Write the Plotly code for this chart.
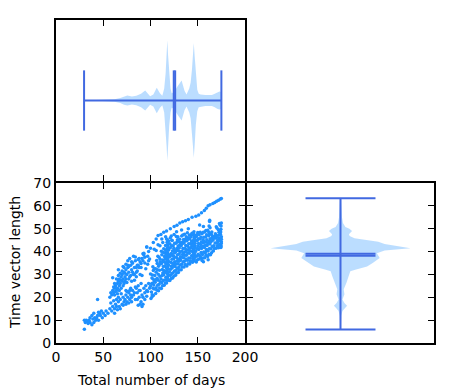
import numpy as np
import plotly.graph_objects as go

# ---------------- data ----------------
# lower-left sparse group
x_early = [30, 30, 31, 32, 33, 34, 35, 36, 36, 38, 38, 39, 40, 40, 41, 42, 43, 44, 45, 45, 46, 47, 48, 49, 50, 44, 52, 53]
y_early = [6, 10, 9, 10, 9.5, 8.5, 10, 11, 9, 8, 12, 10.5, 9, 13, 11, 10, 11, 12, 10, 13.5, 13, 12, 14, 11, 13, 19, 12, 14]

# upper-left band
x_upleft = [57, 58, 59, 60, 61, 62, 62, 63, 64, 65, 65, 66, 67, 67, 68, 69, 70, 70, 71, 72, 72, 73, 74, 74, 75,
            76, 77, 78, 79, 80, 81, 82, 83, 84, 85, 86, 88, 90, 92, 94, 96, 98, 60, 66, 71, 76, 84, 89, 93, 97,
            86, 88, 90, 92, 94, 95, 97, 99, 91, 98, 87, 83, 80, 85,
            62, 64, 66, 68, 70, 72, 74, 76, 78, 80, 82, 63, 65, 67, 69, 71, 73, 75, 77, 79, 81, 83, 85, 87, 89,
            91, 93, 61, 69, 73, 77, 81]
y_upleft = [20, 22, 21, 23, 22, 24, 21, 25, 23, 26, 24, 27, 25, 28, 26, 29, 27, 30, 28, 31, 26, 29, 32, 28, 30,
            33, 31, 29, 34, 32, 35, 30, 33, 36, 31, 34, 37, 33, 39, 35, 42, 36, 28.5, 32, 33.5, 34, 37.6, 30, 39.3, 38,
            31.5, 33, 34.8, 36, 37.5, 32.5, 34.5, 36.8, 29.5, 40, 36.5, 27.5, 27, 29,
            26, 28, 29.5, 30.5, 31.5, 33, 34.5, 36, 37, 35.5, 38, 22.5, 21.5, 23, 24, 25, 27, 26.5, 28, 29.5, 31,
            30, 33, 34, 35.5, 37, 38.5, 24.5, 27.5, 30.5, 33.5, 35]

# lower-middle band
x_lowmid = [55, 57, 59, 60, 62, 63, 64, 66, 67, 68, 70, 71, 72, 73, 74, 75, 76, 77, 78, 79, 80, 81, 82, 84,
            85, 86, 87, 88, 89, 90, 90, 91, 92, 93, 94, 95, 96, 98, 99, 58, 64, 69, 74, 79, 87, 91,
            62, 65, 68, 71, 74, 77, 80, 83, 86, 88, 92, 94, 96, 97, 89, 84, 78, 75, 66, 61]
y_lowmid = [13, 15, 14, 16, 15, 17, 16, 18, 16, 19, 17, 20, 18, 19, 21, 18, 20, 22, 19, 21, 20, 23, 21, 19,
            24, 22, 25, 20, 23, 18, 26, 21, 17, 24, 22, 25, 23, 26, 24, 17.5, 19, 21.5, 23, 24, 16.5, 16,
            13, 14.5, 15, 16.5, 17, 17.5, 18, 22, 19, 23, 20, 19, 20.5, 22.5, 17, 24.5, 23, 22.5, 20, 18.5]

# upper line and secondary points above the main cloud
x_upper = [96, 100, 103, 106, 108, 111, 114, 117, 121, 125, 128, 131, 134, 137, 140, 144, 148, 151, 154, 157,
           159, 161, 163, 166, 168, 170, 172, 174, 175,
           127.6, 132.9, 152, 162.6, 173, 169.6, 104, 108, 112, 116, 121, 125, 140, 156, 106, 110, 113, 117, 122]
y_upper = [42, 41.5, 44, 45.5, 47, 47.5, 48.5, 49, 50, 51, 51.5, 52.5, 53, 53.5, 54, 55, 55.5, 56, 57, 58,
           59, 60, 60.5, 61, 61.5, 62, 62.5, 63, 63.2,
           48.7, 49.4, 51.6, 53.7, 52.3, 50.9, 41, 43, 45.5, 46.5, 46, 47.5, 50, 51, 40.5, 42.5, 44, 45.5, 46.8]

# main cloud
x_main = [100.5, 101, 100, 102, 101.5, 100, 103, 104, 103.5, 103, 104.5, 103, 102.5,
          105.5, 106, 105, 107, 106, 105.5, 107, 106.5, 108.5, 109, 108, 110, 109.5, 108.5, 110, 109,
          111.5, 112, 111, 113, 112.5, 111.5, 113, 112, 111.5, 114.5, 115, 114, 116, 115.5, 114.5, 116, 115, 114,
          117, 117.5, 118, 117.5, 118, 117.2, 118.3, 117.8, 118, 117.5, 118.2, 117.6, 118.8, 119, 118.6, 119.2,
          118.9, 119.3, 118.5, 117.9, 118.4, 117.7,
          120.5, 121, 120, 122, 121.5, 120.5, 122, 121, 120.5, 123.5, 124, 123, 125, 124.5, 123.5, 125, 124, 123,
          126.5, 127, 126, 128, 127.5, 126.5, 128, 127, 128.5, 129.5, 130, 129, 131, 130.5, 129.5, 131, 130, 129,
          132.5, 133, 132, 134, 133.5, 132.5, 134, 133, 135.5, 136, 135, 137, 136.5, 135.5, 137, 136,
          138.5, 139, 138, 140, 139.5, 138.5, 140, 139, 141.5, 142, 141, 143, 142.5, 141.5, 143, 142,
          144.5, 145, 144.6, 145.5, 145.2, 145.8, 145.4, 146, 146.2, 146.5, 146, 146.8, 146.3, 146.7, 145.9, 146.4,
          145.7, 147,
          148.5, 149, 148, 150, 149.5, 148.5, 150, 151.5, 152, 151, 153, 152.5, 151.5, 153,
          154.5, 155, 154, 156, 155.5, 154.5, 157.5, 158, 157, 159, 158.5, 157.5, 156, 159,
          160.5, 161, 160, 162, 161.5, 160.5, 163.5, 164, 163, 165, 164.5, 163, 162.5, 161,
          166.5, 167, 166, 168, 169.5, 170, 169, 171, 171.5, 172, 172.5, 173, 173.5, 174, 174.5, 175, 175, 174.8,
          172, 170.5, 173.5]
y_main = [19.5, 22.3, 24.8, 26.1, 28.4, 30.2, 20.8, 23.6, 25.4, 27.9, 29.5, 31.7, 33.4,
          21.7, 24.2, 26.6, 28.3, 30.9, 32.5, 34.8, 36.1, 22.9, 25.7, 27.4, 29.2, 31.8, 33.6, 35.4, 37.5,
          23.8, 26.4, 28.1, 30.6, 32.2, 34.7, 36.3, 38.6, 40.1, 25.3, 27.6, 29.9, 31.4, 33.8, 35.5, 37.2, 39.4, 41.2,
          26.2, 28.7, 30.3, 31.9, 33.4, 34.8, 36.5, 37.9, 39.6, 41.3, 42.8, 44.1, 27.5, 29.8, 32.6, 35.7,
          38.8, 40.7, 43.5, 29.0, 35.1, 39.0,
          27.3, 29.5, 31.2, 33.6, 35.3, 37.8, 39.2, 41.7, 43.4, 28.4, 30.7, 32.9, 34.4, 36.9, 38.3, 40.6, 42.5, 44.8,
          29.6, 31.8, 33.5, 35.9, 37.4, 39.8, 41.3, 43.6, 45.2, 30.8, 33.1, 34.7, 36.6, 38.9, 40.4, 42.9, 44.3, 46.5,
          32.1, 34.5, 36.2, 38.7, 40.1, 42.6, 44.2, 46.8, 33.2, 35.8, 37.3, 39.9, 41.5, 43.8, 45.4, 47.6,
          33.7, 36.2, 38.4, 40.6, 42.3, 44.7, 46.1, 48.2, 34.6, 37.1, 39.3, 41.8, 43.5, 45.6, 47.3, 35.8,
          35.3, 37.6, 39.8, 41.2, 43.4, 45.1, 47.2, 48.7, 36.4, 38.5, 40.7, 42.6, 44.2, 46.3, 39.1, 42.0,
          36.9, 44.9,
          35.4, 37.9, 40.2, 42.4, 44.8, 46.6, 48.3, 36.7, 38.3, 40.9, 43.1, 45.5, 47.4, 37.2,
          36.1, 38.7, 41.3, 43.7, 45.2, 47.8, 37.3, 39.5, 41.8, 44.1, 46.4, 48.6, 35.6, 40.4,
          37.8, 40.2, 42.7, 44.5, 46.9, 49.3, 38.6, 41.1, 43.3, 45.8, 47.5, 50.4, 53.2, 36.4,
          40.3, 42.6, 44.9, 46.7, 41.4, 43.8, 45.9, 42.2, 44.3, 46.1, 48.4, 43.1, 45.2, 47.6, 49.8, 44.3, 46.5, 42.4,
          41.7, 50.2, 51.6]

# further points of the main cloud, as (days, length) pairs
main2 = [(101.8, 21.1), (102.7, 23.9), (101.2, 25.9), (104.2, 27.0), (102.1, 29.8), (104.0, 32.5), (101.6, 20.2),
         (106.8, 23.1), (107.6, 25.3), (106.3, 27.8), (108.2, 30.1), (107.4, 32.0), (109.3, 34.2), (110.2, 36.6),
         (107.8, 38.0), (109.7, 24.1), (110.4, 26.8),
         (112.7, 25.0), (113.4, 27.3), (112.3, 29.5), (114.1, 31.7), (113.6, 33.5), (112.9, 35.6), (114.7, 37.8),
         (113.5, 39.7), (115.8, 26.2), (116.3, 28.8), (115.2, 30.8), (116.6, 33.0), (116.1, 35.0), (115.6, 36.8),
         (116.7, 38.7), (116.2, 40.6), (115.9, 42.7),
         (117.3, 27.4), (118.7, 31.0), (117.1, 32.8), (119.1, 34.1), (117.6, 36.0), (118.5, 37.2), (119.4, 38.1),
         (117.2, 40.2), (118.7, 41.9), (119.1, 44.6), (117.8, 45.3), (118.1, 28.1),
         (121.8, 28.2), (122.6, 30.4), (121.3, 32.3), (123.1, 34.9), (122.7, 36.6), (121.7, 38.5), (123.3, 40.2),
         (122.3, 42.6), (124.6, 29.2), (125.3, 31.5), (124.2, 33.7), (125.6, 35.6), (124.9, 37.8), (125.4, 39.4),
         (124.7, 41.5), (125.5, 43.6), (122.5, 45.0),
         (127.7, 30.6), (128.4, 32.7), (127.2, 34.6), (129.1, 36.8), (128.6, 38.6), (127.6, 40.6), (129.2, 42.4),
         (128.3, 44.4), (130.6, 31.9), (131.3, 34.1), (130.2, 35.8), (131.7, 37.7), (131.4, 39.9), (130.5, 41.6),
         (131.8, 43.9), (130.9, 45.4), (127.3, 46.6),
         (133.7, 33.3), (134.5, 35.4), (133.2, 37.5), (134.8, 39.3), (134.3, 41.3), (133.6, 43.4), (135.0, 45.3),
         (134.2, 47.3), (136.7, 34.3), (137.5, 36.7), (136.3, 38.4), (137.6, 40.8), (137.3, 42.7), (136.6, 44.6),
         (137.8, 46.5),
         (139.7, 34.7), (140.5, 37.2), (139.3, 39.4), (140.8, 41.5), (140.4, 43.4), (139.8, 45.4), (141.2, 47.2),
         (142.7, 35.6), (143.5, 38.2), (142.3, 40.4), (143.7, 42.7), (143.4, 44.6), (142.8, 46.5), (143.9, 48.0),
         (144.8, 36.3), (145.3, 38.6), (145.1, 40.5), (145.9, 42.3), (145.6, 44.2), (146.1, 46.0), (145.3, 48.0),
         (146.6, 37.4), (146.9, 39.6), (146.5, 41.6), (147.2, 43.6), (146.6, 45.4), (147.3, 47.1), (145.0, 42.8),
         (146.2, 36.0),
         (149.7, 36.4), (150.4, 38.8), (149.3, 41.3), (150.8, 43.5), (150.4, 45.6), (149.6, 47.5), (152.7, 37.7),
         (153.5, 39.6), (152.3, 41.9), (153.8, 44.2), (153.4, 46.3), (152.6, 48.5),
         (155.7, 37.2), (156.3, 39.8), (155.2, 42.3), (156.8, 44.5), (156.4, 46.3), (155.8, 48.4), (158.7, 38.4),
         (159.3, 40.9), (158.2, 42.8), (159.6, 45.2), (159.4, 47.4), (158.6, 49.2),
         (161.7, 38.7), (162.4, 41.3), (161.2, 43.6), (163.0, 45.6), (162.6, 47.8), (161.8, 48.5), (164.6, 39.5),
         (165.3, 42.2), (164.2, 44.4), (165.6, 46.7), (164.9, 48.6), (162.0, 51.2),
         (167.6, 41.3), (168.3, 43.7), (167.2, 45.8), (168.7, 47.8), (170.6, 42.5), (171.0, 44.9), (170.2, 47.0),
         (172.6, 42.9), (173.2, 45.0), (172.8, 47.2), (173.8, 49.0), (174.5, 41.8), (174.9, 43.5), (175.0, 45.4),
         (174.3, 48.6), (171.8, 49.5), (174.7, 51.2), (175.0, 52.5)]
x_main2 = [p[0] for p in main2]
y_main2 = [p[1] for p in main2]

# violin of "Total number of days": positions and relative half widths (max = 1)
days_pos = [29.7, 45, 55, 62, 68, 72, 75.5, 80.4, 85, 90, 94.4, 99.6, 103, 106.6, 110, 112.5, 114.5, 116, 117,
            117.8, 118.6, 119.8, 121.2, 122.4, 125, 128, 132.9, 136, 138.1, 141, 142.5, 143.8, 144.9, 145.8,
            146.8, 148, 149.5, 151, 153, 158, 165, 168, 171, 173, 175]
days_dens = [0, 0.005, 0.012, 0.02, 0.04, 0.07, 0.085, 0.066, 0.08, 0.11, 0.165, 0.07, 0.1, 0.21, 0.12, 0.08,
             0.2, 0.45, 0.75, 1.0, 0.75, 0.42, 0.2, 0.12, 0.14, 0.22, 0.33, 0.16, 0.1, 0.2, 0.3, 0.5, 0.75,
             0.95, 0.72, 0.4, 0.18, 0.11, 0.1, 0.09, 0.09, 0.11, 0.14, 0.15, 0.14]
days_stats = {"min": 29.7, "max": 175.0, "mean": 124.6, "median": 126.1}

# violin of "Time vector length"
len_pos = [5.9, 10, 12, 14, 15.3, 16.3, 17.5, 19, 21.3, 23.5, 26.4, 29.2, 31.4, 32.1, 33.5, 35.0, 37.2, 39.3,
           40.5, 41.5, 42.5, 43.3, 44.3, 45.0, 45.8, 46.8, 47.6, 49, 50, 50.8, 52.5, 55, 60, 63.3]
len_dens = [0.004, 0.007, 0.011, 0.028, 0.063, 0.094, 0.056, 0.028, 0.056, 0.046, 0.085, 0.117, 0.14, 0.21,
            0.38, 0.46, 0.56, 0.52, 0.63, 1.0, 0.82, 0.63, 0.54, 0.35, 0.2, 0.13, 0.12, 0.165, 0.127, 0.07,
            0.035, 0.021, 0.011, 0.007]
len_stats = {"min": 5.9, "max": 63.3, "mean": 38.2, "median": 39.1}

x_ticks = [0, 50, 100, 150, 200]
y_ticks = [0, 10, 20, 30, 40, 50, 60, 70]
x_title = "Total number of days"
y_title = "Time vector length"

# ---------------- styling ----------------
PT = "#1E90FF"
BODY = "rgba(30,144,255,0.30)"
LINE = "#4169E1"
FONT = dict(family="DejaVu Sans", size=14, color="black")
HALF = 0.25      # body half width at max density
BAR = 0.125      # half length of extrema / mean / median bars

xs = np.array(x_early + x_upleft + x_lowmid + x_upper + x_main + x_main2, dtype=float)
ys = np.array(y_early + y_upleft + y_lowmid + y_upper + y_main + y_main2, dtype=float)

fig = go.Figure()

fig.add_trace(go.Scatter(x=xs, y=ys, mode="markers", xaxis="x", yaxis="y",
                         marker=dict(color=PT, size=3.5, line=dict(width=0)), showlegend=False))

def seg(xv, yv, ax, ay, w=2):
    fig.add_trace(go.Scatter(x=xv, y=yv, mode="lines", line=dict(color=LINE, width=w),
                             xaxis=ax, yaxis=ay, showlegend=False, hoverinfo="skip"))

# ---- top violin (horizontal) ----
dp = np.array(days_pos); dd = np.array(days_dens) * HALF
fig.add_trace(go.Scatter(x=np.concatenate([dp, dp[::-1]]), y=np.concatenate([dd, -dd[::-1]]),
                         mode="lines", fill="toself", fillcolor=BODY, line=dict(width=0),
                         xaxis="x2", yaxis="y2", showlegend=False, hoverinfo="skip"))
seg([days_stats["min"], days_stats["max"]], [0, 0], "x2", "y2")
for k in ("min", "max", "mean", "median"):
    seg([days_stats[k], days_stats[k]], [-BAR, BAR], "x2", "y2")

# ---- right violin (vertical) ----
lp = np.array(len_pos); ld = np.array(len_dens) * HALF
fig.add_trace(go.Scatter(x=np.concatenate([ld, -ld[::-1]]), y=np.concatenate([lp, lp[::-1]]),
                         mode="lines", fill="toself", fillcolor=BODY, line=dict(width=0),
                         xaxis="x3", yaxis="y3", showlegend=False, hoverinfo="skip"))
seg([0, 0], [len_stats["min"], len_stats["max"]], "x3", "y3")
for k in ("min", "max", "mean", "median"):
    seg([-BAR, BAR], [len_stats[k], len_stats[k]], "x3", "y3")

# ---------------- layout ----------------
W, H = 458, 392
OFF = 8   # the page body adds an 8 px margin on the left and top
def fx(px): return (px - OFF) / W
def fy(py): return (H - (py - OFF)) / H

# plot-area edges (axis lines of width 2 are drawn just outside these edges)
sc_l, sc_r, sc_t, sc_b = fx(56), fx(245), fy(183), fy(343)
rp_l, rp_r = fx(247), fx(434)
tp_b, tp_t = fy(181), fy(20)

tick = dict(ticks="inside", ticklen=6, tickwidth=1, tickcolor="black")
line = dict(showline=True, linecolor="black", linewidth=2, showgrid=False, zeroline=False)

fig.update_layout(
    width=W, height=H, margin=dict(l=0, r=0, t=0, b=0), autosize=False,
    paper_bgcolor="white", plot_bgcolor="white", font=FONT, showlegend=False,
    xaxis=dict(domain=[sc_l, sc_r], anchor="y", range=[0, 200], tickvals=x_ticks, mirror="ticks",
               **line, **tick, tickfont=FONT, automargin=False),
    yaxis=dict(domain=[sc_b, sc_t], anchor="x", range=[0, 70], tickvals=y_ticks, mirror="ticks",
               **line, **tick, tickfont=FONT, automargin=False),
    xaxis2=dict(domain=[sc_l, sc_r], anchor="y2", matches="x", tickvals=x_ticks, showticklabels=False,
                mirror="ticks", **line, **tick),
    yaxis2=dict(domain=[tp_b, tp_t], anchor="x2", range=[-0.334, 0.334], showticklabels=False, ticks="",
                mirror=True, **line),
    xaxis3=dict(domain=[rp_l, rp_r], anchor="y3", range=[-0.334, 0.334], showticklabels=False, ticks="",
                mirror=True, **line),
    yaxis3=dict(domain=[sc_b, sc_t], anchor="x3", matches="y", tickvals=y_ticks, showticklabels=False,
                mirror="ticks", **line, **tick),
    annotations=[
        dict(text=y_title, xref="paper", yref="paper", x=fx(15), y=(sc_b + sc_t) / 2,
             xanchor="center", yanchor="middle", textangle=-90, showarrow=False, font=FONT, borderpad=0),
        dict(text=x_title, xref="paper", yref="paper", x=(sc_l + sc_r) / 2, y=fy(380),
             xanchor="center", yanchor="middle", showarrow=False, font=FONT, borderpad=0),
    ],
)

fig.write_html("out.html")
